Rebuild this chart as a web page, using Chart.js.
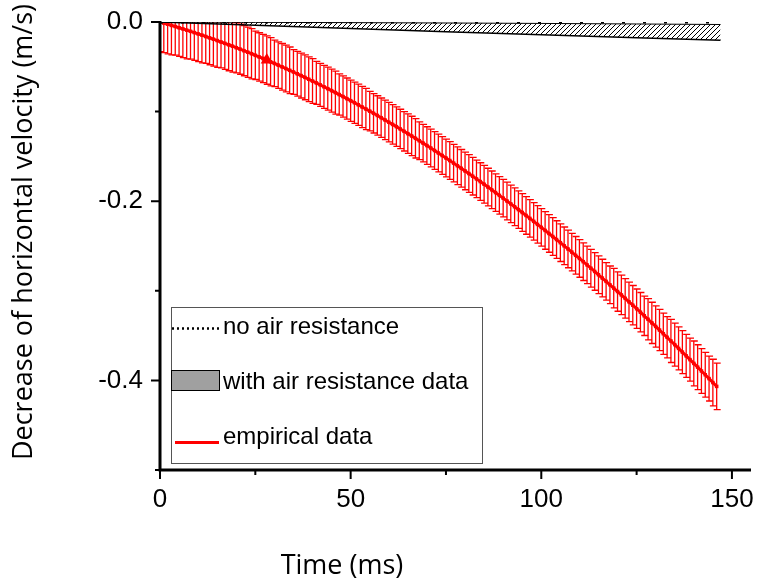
<!DOCTYPE html>
<html>
<head>
<meta charset="utf-8">
<script src="https://cdn.jsdelivr.net/npm/chart.js@4.4.1/dist/chart.umd.min.js"></script>
<style>
  html, body { margin: 0; padding: 0; background: #fff; }
  canvas { display: block; }
</style>
</head>
<body>
<canvas id="chart" width="763" height="583"></canvas>
<script>
// time axis of the measured series (ms)
const timeMs = [
  0, 1, 2, 3, 4, 5, 6, 7, 8, 9, 10, 11, 12, 13, 14, 15, 16, 17, 18, 19,
  20, 21, 22, 23, 24, 25, 26, 27, 28, 29, 30, 31, 32, 33, 34, 35, 36, 37, 38, 39,
  40, 41, 42, 43, 44, 45, 46, 47, 48, 49, 50, 51, 52, 53, 54, 55, 56, 57, 58, 59,
  60, 61, 62, 63, 64, 65, 66, 67, 68, 69, 70, 71, 72, 73, 74, 75, 76, 77, 78, 79,
  80, 81, 82, 83, 84, 85, 86, 87, 88, 89, 90, 91, 92, 93, 94, 95, 96, 97, 98, 99,
  100, 101, 102, 103, 104, 105, 106, 107, 108, 109, 110, 111, 112, 113, 114, 115, 116, 117, 118, 119,
  120, 121, 122, 123, 124, 125, 126, 127, 128, 129, 130, 131, 132, 133, 134, 135, 136, 137, 138, 139,
  140, 141, 142, 143, 144, 145, 146
];

// empirical decrease of horizontal velocity (m/s)
const empiricalVelocity = [
  0, -0.0012, -0.0025, -0.0038, -0.0050, -0.0064, -0.0077, -0.0091, -0.0104, -0.0118,
  -0.0133, -0.0147, -0.0162, -0.0177, -0.0192, -0.0207, -0.0223, -0.0238, -0.0254, -0.0270,
  -0.0287, -0.0303, -0.0320, -0.0337, -0.0354, -0.0372, -0.0390, -0.0407, -0.0425, -0.0444,
  -0.0462, -0.0481, -0.0500, -0.0519, -0.0539, -0.0558, -0.0578, -0.0598, -0.0618, -0.0639,
  -0.0659, -0.0680, -0.0701, -0.0723, -0.0744, -0.0766, -0.0788, -0.0810, -0.0832, -0.0855,
  -0.0878, -0.0901, -0.0924, -0.0948, -0.0971, -0.0995, -0.1019, -0.1043, -0.1068, -0.1093,
  -0.1118, -0.1143, -0.1168, -0.1194, -0.1220, -0.1246, -0.1272, -0.1298, -0.1325, -0.1352,
  -0.1379, -0.1406, -0.1434, -0.1462, -0.1490, -0.1518, -0.1546, -0.1575, -0.1604, -0.1633,
  -0.1662, -0.1691, -0.1721, -0.1751, -0.1781, -0.1811, -0.1842, -0.1873, -0.1904, -0.1935,
  -0.1966, -0.1998, -0.2030, -0.2062, -0.2094, -0.2126, -0.2159, -0.2192, -0.2225, -0.2259,
  -0.2292, -0.2326, -0.2360, -0.2394, -0.2428, -0.2463, -0.2498, -0.2533, -0.2568, -0.2604,
  -0.2639, -0.2675, -0.2711, -0.2748, -0.2784, -0.2821, -0.2858, -0.2895, -0.2933, -0.2970,
  -0.3008, -0.3046, -0.3084, -0.3123, -0.3161, -0.3200, -0.3239, -0.3279, -0.3318, -0.3358,
  -0.3398, -0.3438, -0.3479, -0.3519, -0.3560, -0.3601, -0.3643, -0.3684, -0.3726, -0.3768,
  -0.3810, -0.3852, -0.3895, -0.3937, -0.3980, -0.4024, -0.4067
];

// +/- error of each empirical point (m/s)
const empiricalError = [
  0.033, 0.033, 0.033, 0.033, 0.032, 0.032, 0.032, 0.032, 0.031, 0.031,
  0.031, 0.031, 0.030, 0.030, 0.030, 0.030, 0.029, 0.029, 0.029, 0.029,
  0.028, 0.028, 0.028, 0.028, 0.028, 0.027, 0.027, 0.027, 0.027, 0.027,
  0.026, 0.026, 0.026, 0.026, 0.026, 0.025, 0.025, 0.025, 0.025, 0.025,
  0.025, 0.024, 0.024, 0.024, 0.024, 0.024, 0.024, 0.023, 0.023, 0.023,
  0.023, 0.023, 0.023, 0.023, 0.023, 0.022, 0.022, 0.022, 0.022, 0.022,
  0.022, 0.022, 0.022, 0.022, 0.022, 0.022, 0.022, 0.022, 0.021, 0.021,
  0.021, 0.021, 0.021, 0.021, 0.021, 0.021, 0.021, 0.021, 0.021, 0.021,
  0.021, 0.021, 0.021, 0.021, 0.021, 0.021, 0.021, 0.021, 0.021, 0.021,
  0.021, 0.021, 0.021, 0.021, 0.021, 0.021, 0.021, 0.021, 0.021, 0.021,
  0.021, 0.021, 0.021, 0.021, 0.021, 0.021, 0.021, 0.021, 0.021, 0.021,
  0.021, 0.021, 0.021, 0.021, 0.021, 0.021, 0.021, 0.021, 0.021, 0.022,
  0.022, 0.022, 0.022, 0.022, 0.022, 0.022, 0.022, 0.022, 0.023, 0.023,
  0.023, 0.023, 0.023, 0.023, 0.024, 0.024, 0.024, 0.024, 0.024, 0.024,
  0.025, 0.025, 0.025, 0.025, 0.025, 0.026, 0.026
];

// model with air resistance: band between two curves
const airTime = [0, 25, 50, 75, 100, 125, 147];
const airUpper = [0, -0.0004, -0.0007, -0.0011, -0.0016, -0.0022, -0.0028];
const airLower = [0, -0.0035, -0.0072, -0.0110, -0.0143, -0.0175, -0.0205];

// model without air resistance
const noAirTime = [0, 147];
const noAirVelocity = [0, 0];

const xMajorTicks = [0, 50, 100, 150];
const xMinorTicks = [25, 75, 125];
const yMajorTicks = [0, -0.2, -0.4];
const yMinorTicks = [-0.1, -0.3, -0.5];

const legendLabels = ['no air resistance', 'with air resistance data', 'empirical data'];
const xTitle = 'Time (ms)';
const yTitle = 'Decrease of horizontal velocity (m/s)';

const RED = '#ff0000';
const TICK_FONT = '"Liberation Sans", Arial, sans-serif';
const TITLE_FONT = '"Open Sans", sans-serif';

function toPoints(xs, ys) {
    return xs.map((x, i) => ({ x: x, y: ys[i] }));
}

function makeHatch() {
    const c = document.createElement('canvas');
    c.width = 5; c.height = 5;
    const g = c.getContext('2d');
    g.strokeStyle = '#000';
    g.lineWidth = 1;
    g.beginPath();
    g.moveTo(-1, 6); g.lineTo(6, -1);
    g.stroke();
    return g.createPattern(c, 'repeat');
}

// error bars with caps, drawn under the red line
const errorBarPlugin = {
    id: 'errorBars',
    beforeDatasetsDraw(chart) {
        const { ctx, chartArea, scales: { x, y } } = chart;
        ctx.save();
        ctx.beginPath();
        ctx.rect(chartArea.left, chartArea.top, chartArea.right - chartArea.left, chartArea.bottom - chartArea.top);
        ctx.clip();
        ctx.strokeStyle = RED;
        ctx.lineWidth = 1.3;
        timeMs.forEach((t, i) => {
            const px = x.getPixelForValue(t);
            const top = y.getPixelForValue(empiricalVelocity[i] + empiricalError[i]);
            const bot = y.getPixelForValue(empiricalVelocity[i] - empiricalError[i]);
            ctx.beginPath();
            ctx.moveTo(px, top); ctx.lineTo(px, bot);
            ctx.moveTo(px - 3, top); ctx.lineTo(px + 4, top);
            ctx.moveTo(px - 3, bot); ctx.lineTo(px + 4, bot);
            ctx.stroke();
        });
        ctx.restore();
    }
};

// axis lines, ticks, titles and the boxed legend
const framePlugin = {
    id: 'frame',
    afterDraw(chart) {
        const { ctx, chartArea, scales: { x, y } } = chart;
        const left = chartArea.left, bottom = chartArea.bottom;
        ctx.save();
        ctx.strokeStyle = '#000';
        ctx.lineWidth = 3;
        ctx.beginPath();
        ctx.moveTo(left, chartArea.top - 1); ctx.lineTo(left, bottom + 1);
        ctx.moveTo(left - 1.5, bottom); ctx.lineTo(chartArea.right, bottom);
        ctx.stroke();

        ctx.lineWidth = 2;
        ctx.beginPath();
        xMajorTicks.forEach(v => { const p = x.getPixelForValue(v); ctx.moveTo(p, bottom); ctx.lineTo(p, bottom + 9); });
        xMinorTicks.forEach(v => { const p = x.getPixelForValue(v); ctx.moveTo(p, bottom); ctx.lineTo(p, bottom + 5); });
        yMajorTicks.forEach(v => { const p = y.getPixelForValue(v); ctx.moveTo(left, p); ctx.lineTo(left - 9, p); });
        yMinorTicks.forEach(v => { const p = y.getPixelForValue(v); ctx.moveTo(left, p); ctx.lineTo(left - 5, p); });
        ctx.stroke();

        // titles
        ctx.fillStyle = '#000';
        ctx.font = '27px ' + TITLE_FONT;
        ctx.textAlign = 'center';
        ctx.textBaseline = 'alphabetic';
        ctx.fillText(xTitle, 342, 574);
        ctx.save();
        ctx.translate(32, 232);
        ctx.rotate(-Math.PI / 2);
        ctx.fillText(yTitle, 0, 0);
        ctx.restore();

        // legend box
        const bx = 171, by = 307, bw = 311, bh = 156;
        ctx.strokeStyle = '#555';
        ctx.lineWidth = 1;
        ctx.strokeRect(bx + 0.5, by + 0.5, bw, bh);

        ctx.lineWidth = 2.5;
        ctx.strokeStyle = '#000';
        ctx.setLineDash([2, 3]);
        ctx.beginPath(); ctx.moveTo(172, 328.5); ctx.lineTo(220, 328.5); ctx.stroke();
        ctx.setLineDash([]);

        ctx.fillStyle = '#a0a0a0';
        ctx.fillRect(171, 370, 48, 20);
        ctx.lineWidth = 1;
        ctx.strokeStyle = '#000';
        ctx.strokeRect(171.5, 370.5, 48, 20);

        ctx.strokeStyle = RED;
        ctx.lineWidth = 3;
        ctx.beginPath(); ctx.moveTo(175, 442.5); ctx.lineTo(219, 442.5); ctx.stroke();

        ctx.fillStyle = '#000';
        ctx.font = '24px ' + TICK_FONT;
        ctx.textAlign = 'left';
        ctx.textBaseline = 'middle';
        ctx.fillText(legendLabels[0], 223, 327);
        ctx.fillText(legendLabels[1], 223, 382);
        ctx.fillText(legendLabels[2], 223, 437);
        ctx.restore();
    }
};

const ctx = document.getElementById('chart').getContext('2d');

new Chart(ctx, {
    type: 'line',
    data: {
        datasets: [
            {
                label: 'with air resistance upper',
                data: toPoints(airTime, airUpper),
                borderColor: '#000',
                borderWidth: 1,
                pointRadius: 0,
                fill: false
            },
            {
                label: legendLabels[1],
                data: toPoints(airTime, airLower),
                borderColor: '#000',
                borderWidth: 1.5,
                pointRadius: 0,
                backgroundColor: makeHatch(),
                fill: '-1'
            },
            {
                label: legendLabels[0],
                data: toPoints(noAirTime, noAirVelocity),
                borderColor: '#000',
                borderWidth: 3,
                borderDash: [3, 18],
                pointRadius: 0,
                fill: false
            },
            {
                label: legendLabels[2],
                data: toPoints(timeMs, empiricalVelocity),
                borderColor: RED,
                backgroundColor: RED,
                borderWidth: 3,
                pointStyle: c => c.dataIndex === 28 ? 'triangle' : 'rect',
                pointRadius: c => c.dataIndex === 28 ? 7 : 2.5,
                pointBorderWidth: 0,
                fill: false,
                tension: 0
            }
        ]
    },
    options: {
        responsive: false,
        animation: false,
        events: [],
        layout: { padding: { top: 22, right: 12, left: 0, bottom: 0 } },
        plugins: {
            legend: { display: false },
            tooltip: { enabled: false }
        },
        scales: {
            x: {
                type: 'linear',
                min: 0,
                max: 155,
                grid: { display: false },
                border: { display: false },
                ticks: {
                    stepSize: 50,
                    includeBounds: false,
                    color: '#000',
                    padding: 6,
                    font: { family: TICK_FONT, size: 26 }
                },
                afterFit: s => { s.height = 113; s.paddingLeft = 0; s.paddingRight = 0; }
            },
            y: {
                min: -0.5,
                max: 0,
                grid: { display: false },
                border: { display: false },
                ticks: {
                    stepSize: 0.1,
                    color: '#000',
                    padding: 9,
                    font: { family: TICK_FONT, size: 26 },
                    callback: v => (Math.abs(Math.round(v * 10)) % 2 === 0 && v > -0.45) ? v.toFixed(1) : ''
                },
                afterFit: s => { s.width = 160; s.paddingTop = 0; s.paddingBottom = 0; }
            }
        }
    },
    plugins: [errorBarPlugin, framePlugin]
});
</script>
</body>
</html>
